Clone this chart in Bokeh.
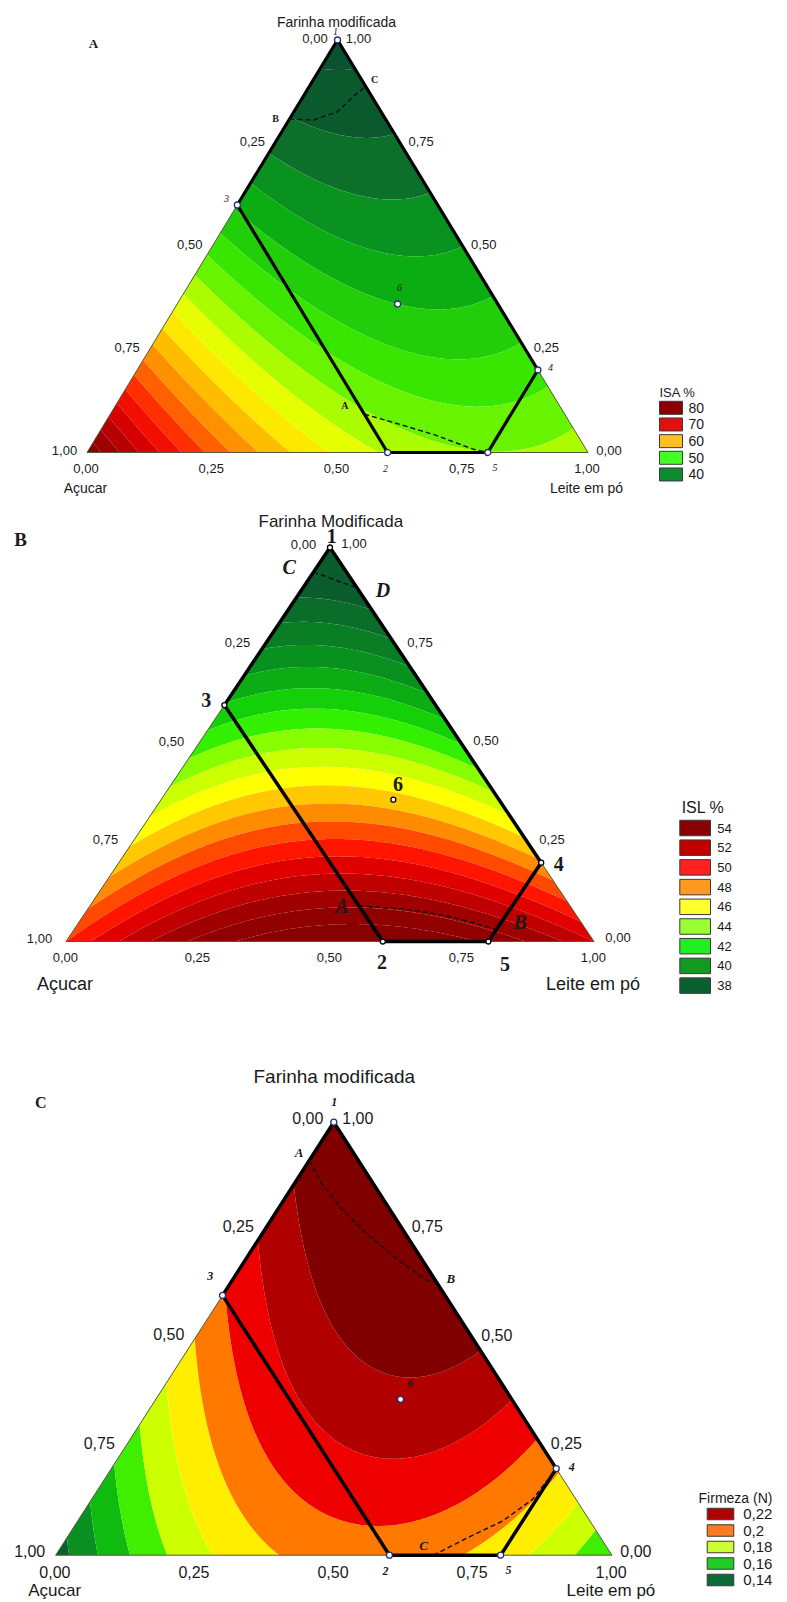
import numpy as np
from bokeh.plotting import figure
from bokeh.layouts import column
from bokeh.models import Range1d
from bokeh.core.properties import value
from bokeh.embed import file_html
from bokeh.resources import INLINE

# ---------------- data ----------------
tick_values = [0.0, 0.25, 0.5, 0.75, 1.0]
tick_labels = ["0,00", "0,25", "0,50", "0,75", "1,00"]

point_labels = ["1", "2", "3", "4", "5", "6"]
point_acucar = [0.0, 0.4, 0.4, 0.0, 0.2, 0.2]
point_leite = [0.0, 0.6, 0.0, 0.8, 0.8, 0.44]
point_farinha = [1.0, 0.0, 0.6, 0.2, 0.0, 0.36]
region_order = [0, 2, 1, 4, 3, 0]  # 1-3-2-5-4-1

# Scheffe special-cubic model coefficients: A, L, F, AL, AF, LF, ALF
isa_coef = [82.0, 54.0, 34.0, -44.0, -36.0, -6.0, 0.0]
isl_coef = [50.0, 52.0, 36.0, 20.0, 2.0, -4.0, 10.0]
firmeza_coef = [0.140, 0.165, 0.235, 0.187, 0.030, 0.108, 0.050]

isa_levels = [35.0, 37.5, 40.0, 42.5, 45.0, 47.5, 50.0, 52.5, 55.0, 57.5, 60.0,
              62.5, 65.0, 67.5, 70.0, 72.5, 75.0, 77.5, 80.0, 82.5]
isl_levels = [38.0, 39.0, 40.0, 41.0, 42.0, 43.0, 44.0, 45.0, 46.0, 47.0, 48.0,
              49.0, 50.0, 51.0, 52.0, 53.0, 54.0, 55.0]
firmeza_levels = [0.145, 0.155, 0.165, 0.175, 0.185, 0.195, 0.205, 0.215, 0.225]

isa_legend = ["80", "70", "60", "50", "40"]
isl_legend = ["54", "52", "50", "48", "46", "44", "42", "40", "38"]
firmeza_legend = ["0,22", "0,2", "0,18", "0,16", "0,14"]

# dashed curves (acucar, leite, farinha)
isa_c1_a = [0.192, 0.145, 0.089, 0.027, 0.0]
isa_c1_l = [0.0, 0.049, 0.086, 0.103, 0.113]
isa_c1_f = [0.808, 0.806, 0.825, 0.870, 0.887]
isa_c2_a = [0.4, 0.341, 0.287, 0.225, 0.2]
isa_c2_l = [0.507, 0.591, 0.669, 0.767, 0.8]
isa_c2_f = [0.093, 0.068, 0.044, 0.008, 0.0]

isl_c1_a = [0.063, 0.045, 0.025, 0.0]
isl_c1_l = [0.0, 0.028, 0.062, 0.102]
isl_c1_f = [0.937, 0.927, 0.913, 0.898]
isl_c2_a = [0.4, 0.322, 0.2705, 0.2375, 0.1984, 0.17]
isl_c2_l = [0.51, 0.595, 0.6577, 0.7008, 0.7567, 0.8]
isl_c2_f = [0.09, 0.083, 0.0718, 0.0617, 0.0449, 0.03]

firm_c1_a = [0.0886, 0.0928, 0.0857, 0.0694, 0.0443, 0.0149, 0.0]
firm_c1_l = [0.0, 0.0497, 0.1148, 0.1888, 0.2719, 0.3509, 0.37]
firm_c1_f = [0.9114, 0.8575, 0.7995, 0.7418, 0.6838, 0.6342, 0.63]
firm_c2_a = [0.321, 0.24, 0.157, 0.078, 0.0]
firm_c2_l = [0.679, 0.72, 0.764, 0.793, 0.8]
firm_c2_f = [0.0, 0.04, 0.079, 0.129, 0.2]

# ---------------- styles ----------------
ISA_ANCH = [(35, "#0b5230"), (38, "#0c662c"), (41, "#0a8f22"), (44, "#0bb012"),
            (47, "#28d806"), (50, "#44f000"), (52.5, "#8cf800"), (55, "#ccff00"),
            (57.5, "#ffff00"), (60, "#ffd200"), (62.5, "#ffa800"), (65, "#ff7800"),
            (67.5, "#ff4800"), (70, "#ff1800"), (73, "#e00000"), (76, "#b80000"),
            (80, "#900000"), (84, "#700000")]
ISL_ANCH = [(37, "#0b5530"), (39, "#0a7528"), (41, "#089a1a"), (42.5, "#14d008"),
            (43.5, "#33f000"), (44.5, "#88ff00"), (45.5, "#ccff00"), (46.5, "#ffff00"),
            (47.5, "#ffc800"), (48.5, "#ff8c00"), (49.5, "#ff4a00"), (50.5, "#ff1500"),
            (51.5, "#e00000"), (52.5, "#c00000"), (53.5, "#a00000"), (55, "#880000")]
FIRM_ANCH = [(0.14, "#0b6030"), (0.15, "#0a8f22"), (0.16, "#10bb10"), (0.17, "#40ee00"),
             (0.18, "#ccff00"), (0.19, "#ffee00"), (0.20, "#ff7800"), (0.21, "#ee0000"),
             (0.22, "#b00000"), (0.23, "#800000")]

SANS = "Liberation Sans"
SERIF = "Liberation Serif"
PAGE_W = 787


def scheffe(c, a, l, f):
    return (c[0] * a + c[1] * l + c[2] * f + c[3] * a * l + c[4] * a * f
            + c[5] * l * f + c[6] * a * l * f)


def lerp_color(v, anchors):
    if v <= anchors[0][0]:
        return anchors[0][1]
    if v >= anchors[-1][0]:
        return anchors[-1][1]
    for (v0, c0), (v1, c1) in zip(anchors[:-1], anchors[1:]):
        if v0 <= v <= v1:
            t = (v - v0) / (v1 - v0)
            rgb0 = [int(c0[i:i + 2], 16) for i in (1, 3, 5)]
            rgb1 = [int(c1[i:i + 2], 16) for i in (1, 3, 5)]
            rgb = [round(a + (b - a) * t) for a, b in zip(rgb0, rgb1)]
            return "#%02x%02x%02x" % tuple(rgb)
    return anchors[-1][1]


def tern_xy(a, l, f):
    l = np.asarray(l, float)
    f = np.asarray(f, float)
    return list(l + f / 2.0), list(f)


def build_panel(cfg):
    left, right, apex, base = cfg["tri"]
    top, bottom = cfg["page"]
    sx = right - left
    sy = base - apex

    def d(px, py):
        return (px - left) / sx, (base - py) / sy

    def pg(X, Y):
        return left + X * sx, base - Y * sy

    x0, y1 = d(0, top)
    x1, y0 = d(PAGE_W, bottom)
    p = figure(width=PAGE_W, height=bottom - top, x_range=Range1d(x0, x1),
               y_range=Range1d(y0, y1), output_backend="svg",
               toolbar_location=None, min_border=0, tools="",
               x_axis_location=None, y_axis_location=None)
    p.grid.visible = False
    p.outline_line_color = None

    # response surface
    n = 301
    xs = np.linspace(0, 1, n)
    ys = np.linspace(0, 1, n)
    XX, YY = np.meshgrid(xs, ys)
    F = YY
    L = XX - YY / 2.0
    A = 1.0 - L - F
    Z = scheffe(cfg["coef"], A, L, F)
    lv = list(cfg["levels"])
    step = lv[1] - lv[0]
    full = [min(Z.min(), lv[0]) - 1.0] + lv + [max(Z.max(), lv[-1]) + 1.0]
    cols = [lerp_color(lv[0] - step / 2, cfg["anch"])]
    for i in range(len(lv) - 1):
        cols.append(lerp_color((lv[i] + lv[i + 1]) / 2, cfg["anch"]))
    cols.append(lerp_color(lv[-1] + step / 2, cfg["anch"]))
    p.contour(xs, ys, Z, full, fill_color=cols)

    # white masks outside triangle
    p.patch([0, 0.5, 0.5, -0.05, -0.05], [0, 1, 1.05, 1.05, 0],
            fill_color="white", line_color=None)
    p.patch([1, 0.5, 0.5, 1.05, 1.05], [0, 1, 1.05, 1.05, 0],
            fill_color="white", line_color=None)

    # triangle outline
    p.line([0, 1, 0.5, 0], [0, 0, 1, 0], line_color="#55553a", line_width=1)

    # design region
    ra = [point_acucar[i] for i in region_order]
    rl = [point_leite[i] for i in region_order]
    rf = [point_farinha[i] for i in region_order]
    rx, ry = tern_xy(ra, rl, rf)
    p.line(rx, ry, line_color="black", line_width=cfg["region_w"], line_join="round")

    # dashed curves
    for (ca, cl, cf) in cfg["curves"]:
        cx, cy = tern_xy(ca, cl, cf)
        p.line(cx, cy, line_color="#111111", line_width=1.4, line_dash="5 3")

    # design points
    px_, py_ = tern_xy(point_acucar, point_leite, point_farinha)
    p.scatter(px_, py_, size=cfg["pt_size"], marker="circle",
              fill_color=cfg["pt_fill"], line_color=cfg["pt_line"], line_width=1.3)

    def add_text(positions, texts, font, size, style="normal", align="center", color="#1a1a1a"):
        xx, yy = [], []
        for (qx, qy) in positions:
            a_, b_ = d(qx, qy)
            xx.append(a_)
            yy.append(b_)
        p.text(xx, yy, text=list(texts), text_font=value(font),
               text_font_size=value(size), text_font_style=style,
               text_align=align, text_baseline="middle", text_color=color)

    # tick labels
    tfs = cfg["tick_fs"]
    lo, ro, bo = cfg["tick_off"]
    left_pos, right_pos, bot_pos = [], [], []
    for v in tick_values:
        qx, qy = pg((1 - v) / 2.0, 1 - v)        # acucar = v on left edge
        left_pos.append((qx + lo[0], qy + lo[1]))
        qx, qy = pg(1 - v + v / 2.0, v)          # farinha = v on right edge
        right_pos.append((qx + ro[0], qy + ro[1]))
        qx, qy = pg(v, 0)                        # leite = v on base
        bot_pos.append((qx + bo[0], qy + bo[1]))
    add_text(left_pos, tick_labels, SANS, tfs)
    add_text(right_pos, tick_labels, SANS, tfs)
    add_text(bot_pos, tick_labels, SANS, tfs)

    # component names
    ao = cfg["name_off"]
    qa = pg(0, 0)
    qb = pg(1, 0)
    add_text([(qa[0] + ao[0], qa[1] + ao[1]), (qb[0] + ao[0], qb[1] + ao[1])],
             ["Açucar", "Leite em pó"], SANS, cfg["name_fs"])
    add_text([cfg["title_pos"]], [cfg["title"]], SANS, cfg["title_fs"])
    add_text([cfg["letter_pos"]], [cfg["letter"]], SERIF, cfg["letter_fs"], "bold")

    # point and curve labels
    add_text(cfg["pt_label_pos"], point_labels, SERIF, cfg["pt_label_fs"], cfg["pt_label_style"])
    add_text(cfg["curve_label_pos"], cfg["curve_labels"], SERIF, cfg["curve_label_fs"],
             cfg["curve_label_style"])

    # legend
    lx0, lx1, lh, ly0, ldy, labx = cfg["leg_geom"]
    bl, br, bb, bt = [], [], [], []
    for i in range(len(cfg["leg_labels"])):
        cy = ly0 + i * ldy
        a_, t_ = d(lx0, cy - lh / 2)
        b_, u_ = d(lx1, cy + lh / 2)
        bl.append(a_); br.append(b_); bt.append(t_); bb.append(u_)
    p.quad(left=bl, right=br, top=bt, bottom=bb, fill_color=cfg["leg_colors"],
           line_color="#3a3a3a", line_width=1)
    add_text([(labx, ly0 + i * ldy) for i in range(len(cfg["leg_labels"]))],
             cfg["leg_labels"], SANS, cfg["leg_fs"], align="left")
    add_text([cfg["leg_title_pos"]], [cfg["leg_title"]], SANS, cfg["leg_title_fs"])
    return p


panel_a = dict(
    tri=(86.5, 587.5, 39.5, 452.0), page=(0, 500),
    coef=isa_coef, levels=isa_levels, anch=ISA_ANCH,
    region_w=3.2,
    curves=[(isa_c1_a, isa_c1_l, isa_c1_f), (isa_c2_a, isa_c2_l, isa_c2_f)],
    pt_size=6, pt_fill="white", pt_line="#22307a",
    tick_fs="13px", tick_off=((-22.5, -2), (21, -2), (-1, 16)),
    name_off=(-1.5, 35), name_fs="14px",
    title="Farinha modificada", title_pos=(336, 21.7), title_fs="14px",
    letter="A", letter_pos=(93, 42.7), letter_fs="13px",
    pt_label_pos=[(335, 30.7), (385, 468), (226, 198), (550, 367), (494.5, 466.7), (399, 287)],
    pt_label_fs="10px", pt_label_style="italic",
    curve_labels=["C", "B", "A"], curve_label_pos=[(374, 79), (275, 118), (344.4, 405)],
    curve_label_fs="10px", curve_label_style="bold",
    leg_geom=(659, 682, 13, 407.3, 16.67, 688), leg_labels=isa_legend,
    leg_colors=["#8b0000", "#e01010", "#ffc020", "#44ff22", "#0b8a30"],
    leg_fs="14px", leg_title="ISA %", leg_title_pos=(677, 391.7), leg_title_fs="13px",
)

panel_b = dict(
    tri=(65.5, 593.5, 547.0, 941.0), page=(500, 1040),
    coef=isl_coef, levels=isl_levels, anch=ISL_ANCH,
    region_w=3.5,
    curves=[(isl_c1_a, isl_c1_l, isl_c1_f), (isl_c2_a, isl_c2_l, isl_c2_f)],
    pt_size=5, pt_fill="white", pt_line="black",
    tick_fs="13px", tick_off=((-26.5, -3.5), (24, -3.7), (-0.7, 16.3)),
    name_off=(-1, 42.3), name_fs="18px",
    title="Farinha Modificada", title_pos=(330.3, 520.7), title_fs="17px",
    letter="B", letter_pos=(20, 539.3), letter_fs="19px",
    pt_label_pos=[(331.3, 535), (381.5, 961.7), (205.8, 699.3), (558.2, 863.3), (504.5, 963.3), (397.6, 783.3)],
    pt_label_fs="20px", pt_label_style="bold",
    curve_labels=["C", "D", "A", "B"],
    curve_label_pos=[(288.7, 566.7), (382.5, 589.3), (341.4, 905), (519.6, 921.7)],
    curve_label_fs="20px", curve_label_style="bold italic",
    leg_geom=(679.3, 710, 15.5, 827.5, 19.7, 716.7), leg_labels=isl_legend,
    leg_colors=["#8b0000", "#c00000", "#ff2020", "#ff9a20", "#ffff30", "#99ff33",
                "#22ee22", "#119922", "#0b6030"],
    leg_fs="13px", leg_title="ISL %", leg_title_pos=(702.5, 806.7), leg_title_fs="16px",
)

panel_c = dict(
    tri=(55.2, 611.4, 1121.7, 1554.7), page=(1040, 1600),
    coef=firmeza_coef, levels=firmeza_levels, anch=FIRM_ANCH,
    region_w=3.5,
    curves=[(firm_c1_a, firm_c1_l, firm_c1_f), (firm_c2_a, firm_c2_l, firm_c2_f)],
    pt_size=6, pt_fill="white", pt_line="#22307a",
    tick_fs="16px", tick_off=((-26, -4.3), (24, -4.2), (-0.8, 16.5)),
    name_off=(-1, 35), name_fs="17px",
    title="Farinha modificada", title_pos=(333.8, 1075.8), title_fs="19px",
    letter="C", letter_pos=(40.2, 1101.6), letter_fs="16px",
    pt_label_pos=[(333.8, 1101.6), (385, 1570.5), (209.8, 1275.8), (571.3, 1466.5), (508, 1569.7), (410, 1382.3)],
    pt_label_fs="12px", pt_label_style="bold italic",
    curve_labels=["A", "B", "C"],
    curve_label_pos=[(298.7, 1151.8), (450.3, 1278.4), (423.2, 1545.4)],
    curve_label_fs="13px", curve_label_style="bold italic",
    leg_geom=(706.7, 733.3, 11.5, 1513.5, 16.5, 742.7), leg_labels=firmeza_legend,
    leg_colors=["#b00000", "#ff7a20", "#ccff33", "#22cc22", "#0b6b38"],
    leg_fs="15px", leg_title="Firmeza (N)", leg_title_pos=(735, 1497), leg_title_fs="14px",
)

pa = build_panel(panel_a)
pb = build_panel(panel_b)
pc = build_panel(panel_c)
layout = column(pa, pb, pc, spacing=0)
open("out.html", "w").write(file_html(layout, INLINE))
